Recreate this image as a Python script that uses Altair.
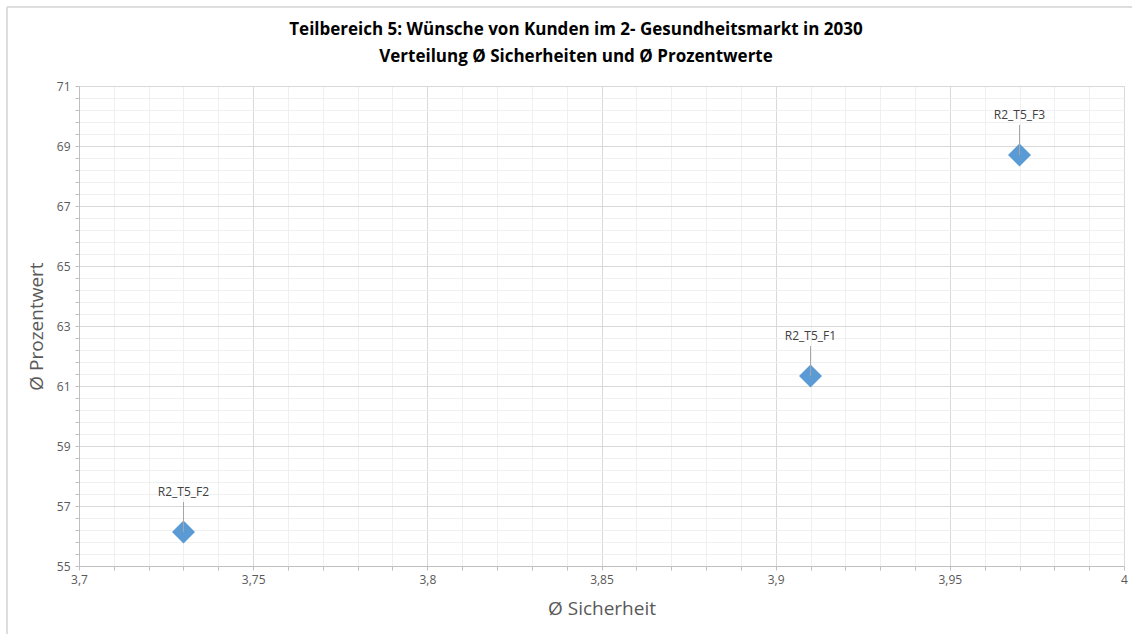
import altair as alt
import pandas as pd

labels = ["R2_T5_F1", "R2_T5_F2", "R2_T5_F3"]
sicherheit = [3.91, 3.73, 3.97]
prozent = [61.33, 56.13, 68.7]

title_lines = ["Teilbereich 5: Wünsche von Kunden im 2- Gesundheitsmarkt in 2030",
               "Verteilung Ø Sicherheiten und Ø Prozentwerte"]

df = pd.DataFrame({"label": labels, "x": sicherheit, "y": prozent})
title_df = pd.DataFrame({"t": ["\n".join(title_lines)]})

x_minor = [round(3.7 + 0.01 * i, 2) for i in range(31)]
y_minor = [round(55 + 0.4 * i, 1) for i in range(41)]

FONT = "Open Sans"
GRAY = "#595959"

x_scale = alt.Scale(domain=[3.7, 4.0], nice=False, zero=False)
y_scale = alt.Scale(domain=[55, 71], nice=False, zero=False)

x_axis = alt.Axis(
    values=x_minor, tickCount=200,
    labelExpr="(round(datum.value*100) % 5 == 0) ? replace(format(datum.value, '.2~f'), '.', ',') : ''",
    gridColor=alt.condition("round(datum.value*100) % 5 == 0", alt.value("#d9d9d9"), alt.value("#f0f0f0")),
    title="Ø Sicherheit",
    titleFont=FONT, titleFontSize=19, titleFontWeight="normal", titleColor=GRAY,
    titlePadding=14,
    labelFont=FONT, labelFontSize=12, labelColor=GRAY, labelPadding=4,
    labelFlush=False, labelOverlap=False,
    tickSize=4, tickColor="#bfbfbf", domainColor="#bfbfbf",
)
y_axis = alt.Axis(
    values=y_minor, tickCount=200,
    labelExpr="((round(datum.value*10) - 550) % 20 == 0) ? format(datum.value, 'd') : ''",
    gridColor=alt.condition("(round(datum.value*10) - 550) % 20 == 0", alt.value("#d9d9d9"), alt.value("#f0f0f0")),
    title="Ø Prozentwert",
    titleFont=FONT, titleFontSize=19, titleFontWeight="normal", titleColor=GRAY,
    titlePadding=10,
    labelFont=FONT, labelFontSize=12, labelColor=GRAY, labelPadding=5,
    labelFlush=False, labelOverlap=False,
    tickSize=4, tickColor="#bfbfbf", domainColor="#bfbfbf",
)

base = alt.Chart(df)

border = base.mark_rect(fill=None, stroke="#d9d9d9", strokeWidth=1).encode(
    x=alt.value(-72), x2=alt.value(1070), y=alt.value(-79), y2=alt.value(560)
)

title = alt.Chart(title_df).mark_text(
    font=FONT, fontSize=17, fontWeight="bold", color="#000000",
    lineBreak="\n", lineHeight=27, baseline="middle", align="center",
).encode(x=alt.value(497), y=alt.value(-56), text="t:N")

points = base.mark_point(shape="diamond", size=530, filled=True, opacity=1, color="#5b9bd5").encode(
    x=alt.X("x:Q", scale=x_scale, axis=x_axis),
    y=alt.Y("y:Q", scale=y_scale, axis=y_axis),
)

leader = base.mark_rule(color="#a6a6a6", strokeWidth=1, y2Offset=-30).encode(
    x="x:Q", y="y:Q", y2="y:Q"
)

text = base.mark_text(font=FONT, fontSize=12, color="#404040", dy=-40).encode(
    x="x:Q", y="y:Q", text="label:N"
)

chart = alt.layer(border, title, points, leader, text).properties(
    width=1045,
    height=480,
    autosize=alt.AutoSizeParams(type="none"),
    padding={"left": 79, "top": 86, "right": 8, "bottom": 68},
).configure_view(stroke=None).configure(background="white")

chart.save("out.html", embed_options={"renderer": "svg", "actions": False})
